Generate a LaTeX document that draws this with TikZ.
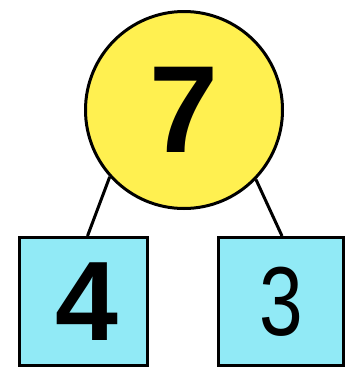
\documentclass[tikz,border=0pt]{standalone}
\usepackage{fontspec}
\setmainfont{Liberation Sans}
\usepackage{graphicx}
\usepackage{xcolor}
\definecolor{bubble}{RGB}{255,240,80}
\definecolor{boxcyan}{RGB}{145,234,246}
\tikzset{
  whole/.style={circle,draw=black,line width=3pt,fill=bubble,minimum size=197pt,inner sep=0pt},
  part/.style={rectangle,draw=black,line width=3pt,fill=boxcyan,inner sep=0pt},
  link/.style={line width=3pt}
}
\begin{document}
\begin{tikzpicture}[x=1pt,y=1pt]
\useasboundingbox (0,0) rectangle (346,-375);
% whole
\node[whole] (c) at (184,-110) {\fontsize{124}{124}\selectfont\bfseries 7};
% parts
\node[part,minimum width=128pt,minimum height=128pt] (l) at (83.5,-301.5) {\hspace{7pt}\fontsize{113}{113}\selectfont\bfseries 4};
\node[part,minimum width=125pt,minimum height=128pt] (r) at (281,-301.5) {\scalebox{0.8}[1]{\fontsize{98}{98}\selectfont 3}};
% links
\draw[link] (c.222.6) -- ([xshift=4pt]l.north);
\draw[link] (c.316.6) -- ([xshift=1pt]r.north);
\end{tikzpicture}
\end{document}
